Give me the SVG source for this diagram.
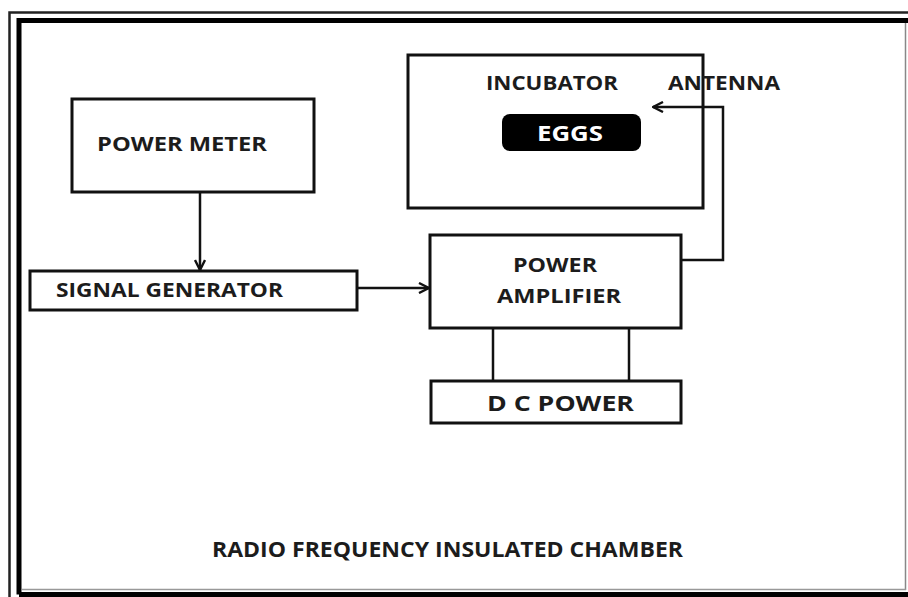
<svg xmlns="http://www.w3.org/2000/svg" width="908" height="597" viewBox="0 0 908 597">
<defs>
<style>
.box{fill:#fff;stroke:#111;stroke-width:3}
.ln{fill:none;stroke:#111;stroke-width:2.5}
.t{font-family:"Open Sans","Liberation Sans",sans-serif;font-weight:700;fill:#1c1c1c}
</style>
<marker id="arr" viewBox="0 0 12 12" refX="11" refY="6" markerWidth="12" markerHeight="12" markerUnits="userSpaceOnUse" orient="auto">
<path d="M1,1 L11,6 L1,11" fill="none" stroke="#111" stroke-width="2.4"/>
</marker>
</defs>
<rect width="908" height="597" fill="#fff"/>
<g id="frame">
<path d="M9.5,597 V12.5 H908" fill="none" stroke="#222" stroke-width="2.5"/>
<path d="M19,594.5 V20.5 H908 M19,594.5 H908" fill="none" stroke="#000" stroke-width="5"/>
<path d="M905.5,23 V590" fill="none" stroke="#888" stroke-width="1.5"/>
<path d="M22,589.5 H906" fill="none" stroke="#999" stroke-width="1.5"/>
<text class="t" x="212" y="557" font-size="21.5" textLength="471" lengthAdjust="spacingAndGlyphs">RADIO FREQUENCY INSULATED CHAMBER</text>
</g>
<g id="incubator">
<rect class="box" x="408" y="55" width="295" height="153"/>
<text class="t" x="486" y="90" font-size="19.5" textLength="132" lengthAdjust="spacingAndGlyphs">INCUBATOR</text>
</g>
<g id="eggs">
<rect x="502" y="114" width="139" height="37" rx="8" fill="#000"/>
<text class="t" x="537" y="140.5" font-size="22" style="fill:#fff" textLength="66" lengthAdjust="spacingAndGlyphs">EGGS</text>
</g>
<g id="antenna">
<text class="t" x="668" y="90" font-size="19.5" textLength="112" lengthAdjust="spacingAndGlyphs">ANTENNA</text>
</g>
<g id="power-meter">
<rect class="box" x="72" y="99" width="242" height="93"/>
<text class="t" x="97" y="151" font-size="20" textLength="170" lengthAdjust="spacingAndGlyphs">POWER METER</text>
</g>
<g id="signal-generator">
<rect class="box" x="30" y="271" width="327" height="39"/>
<text class="t" x="56" y="297" font-size="20" textLength="227" lengthAdjust="spacingAndGlyphs">SIGNAL GENERATOR</text>
</g>
<g id="power-amplifier">
<rect class="box" x="430" y="235" width="251" height="93"/>
<text class="t" x="513" y="272" font-size="20" textLength="84" lengthAdjust="spacingAndGlyphs">POWER</text>
<text class="t" x="497" y="303" font-size="20" textLength="124" lengthAdjust="spacingAndGlyphs">AMPLIFIER</text>
</g>
<g id="dc-power">
<rect class="box" x="431" y="381" width="250" height="42"/>
<text class="t" x="487" y="411" font-size="20.5" textLength="147" lengthAdjust="spacingAndGlyphs">D C POWER</text>
</g>
<g id="connectors">
<line class="ln" x1="200" y1="192" x2="200" y2="270" marker-end="url(#arr)"/>
<line class="ln" x1="357" y1="288" x2="429" y2="288" marker-end="url(#arr)"/>
<polyline class="ln" points="682,260 723,260 723,107 653,107" marker-end="url(#arr)"/>
<line class="ln" x1="493" y1="329" x2="493" y2="380"/>
<line class="ln" x1="629" y1="329" x2="629" y2="380"/>
</g>
</svg>
